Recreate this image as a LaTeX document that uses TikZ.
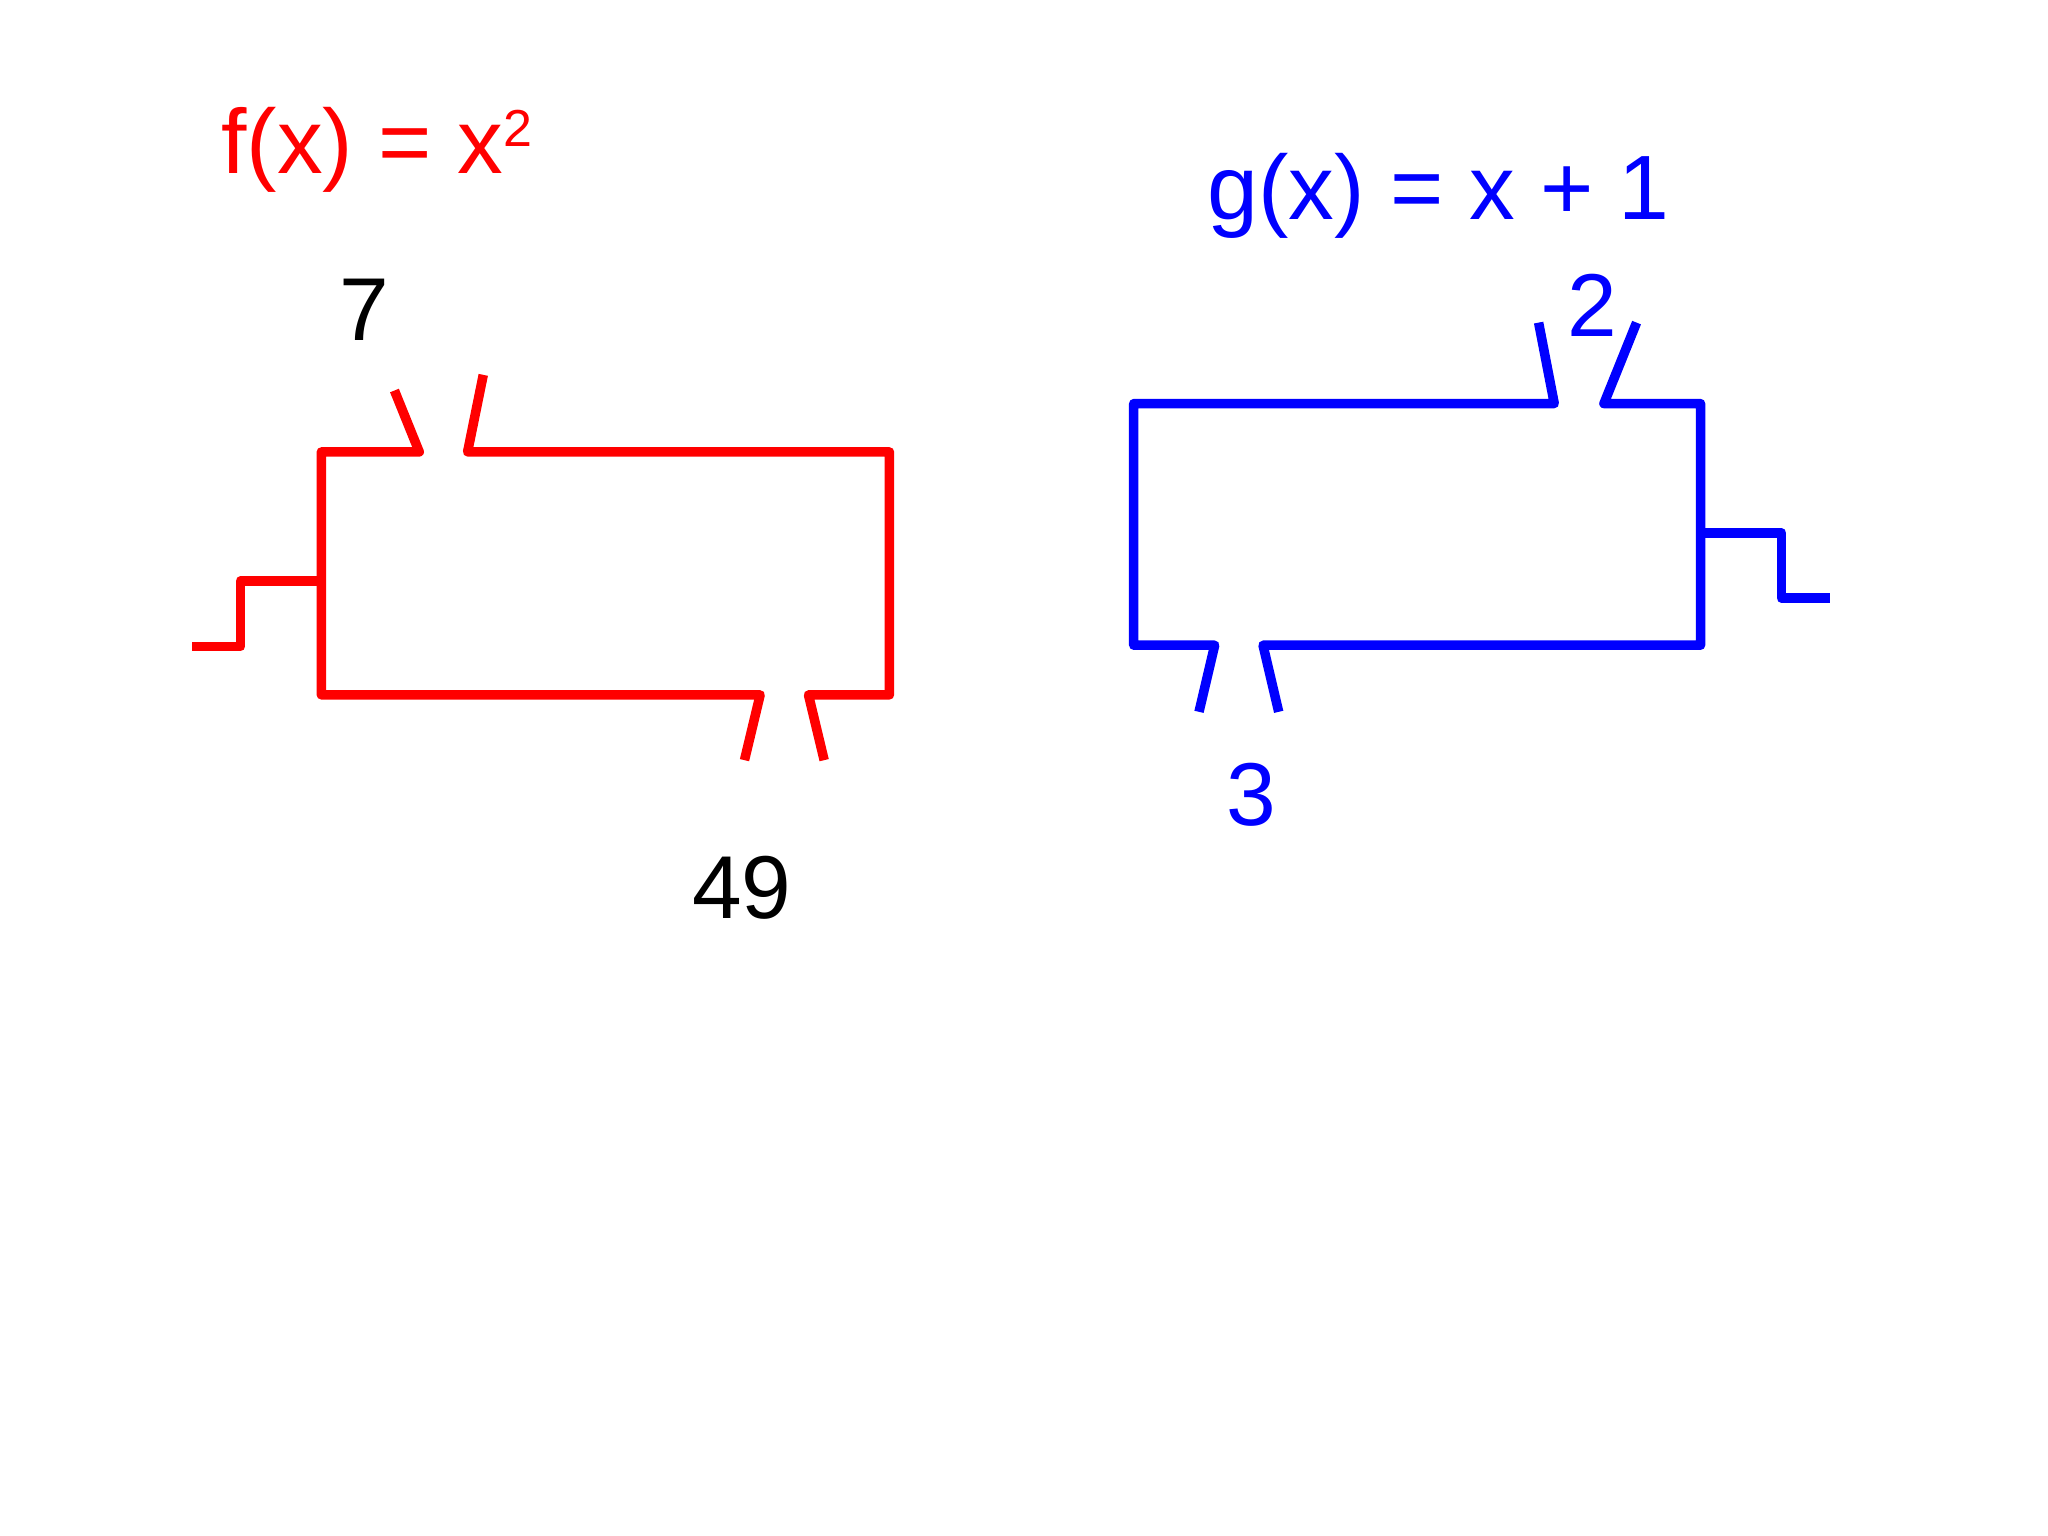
\documentclass[tikz,border=0pt]{standalone}
\usepackage{fontspec}
\setmainfont{Liberation Sans}
\definecolor{fred}{RGB}{255,0,0}
\definecolor{gblue}{RGB}{0,0,255}
\begin{document}
\begin{tikzpicture}[x=0.013061cm,y=-0.013061cm,
  wire/.style={line width=2.7pt,line join=round,line cap=butt},
  lbl/.style={font=\fontsize{25.4pt}{30pt}\selectfont,inner sep=0pt,anchor=base},
  ttl/.style={font=\fontsize{26pt}{30pt}\selectfont,inner sep=0pt,anchor=base west}]
\useasboundingbox[fill=white] (0,0) rectangle (1568,1176);
% ---------- f box (red) ----------
\coordinate (fA) at (302,299);
\coordinate (fB) at (321,346);
\coordinate (fTL) at (246,346);
\coordinate (fBL) at (246,532);
\coordinate (fC) at (582,532);
\coordinate (fD) at (570,582);
\coordinate (fE) at (631,582);
\coordinate (fF) at (619,532);
\coordinate (fBR) at (681,532);
\coordinate (fTR) at (681,346);
\coordinate (fG) at (358,346);
\coordinate (fH) at (370,287);
\coordinate (fS1) at (246,445);
\coordinate (fS2) at (184,445);
\coordinate (fS3) at (184,495);
\coordinate (fS4) at (147,495);
\draw[wire,fred] (fA) -- (fB) -- (fTL) -- (fBL) -- (fC) -- (fD);
\draw[wire,fred] (fE) -- (fF) -- (fBR) -- (fTR) -- (fG) -- (fH);
\draw[wire,fred] (fS1) -- (fS2) -- (fS3) -- (fS4);
% ---------- g box (blue) ----------
\coordinate (gA) at (1178,247);
\coordinate (gB) at (1190,309);
\coordinate (gTL) at (868,309);
\coordinate (gBL) at (868,494);
\coordinate (gC) at (930,494);
\coordinate (gD) at (918,545);
\coordinate (gE) at (979,545);
\coordinate (gF) at (967,494);
\coordinate (gBR) at (1302,494);
\coordinate (gTR) at (1302,309);
\coordinate (gG) at (1228,309);
\coordinate (gH) at (1253,247);
\coordinate (gS1) at (1302,408);
\coordinate (gS2) at (1364,408);
\coordinate (gS3) at (1364,458);
\coordinate (gS4) at (1401,458);
\draw[wire,gblue] (gA) -- (gB) -- (gTL) -- (gBL) -- (gC) -- (gD);
\draw[wire,gblue] (gE) -- (gF) -- (gBR) -- (gTR) -- (gG) -- (gH);
\draw[wire,gblue] (gS1) -- (gS2) -- (gS3) -- (gS4);
% ---------- labels ----------
\node[ttl,text=fred] (ftitle) at (169,133)
  {f(x) = x\raisebox{7.8pt}{\fontsize{14.8pt}{16pt}\selectfont 2}};
\node[ttl,text=gblue] (gtitle) at (924,168) {g(x) = x + 1};
\node[lbl] (in7) at (279,261) {7};
\node[lbl] (out49) at (568,703) {49};
\node[lbl,text=gblue] (in2) at (1219,258) {2};
\node[lbl,text=gblue] (out3) at (958,632) {3};
\end{tikzpicture}
\end{document}
